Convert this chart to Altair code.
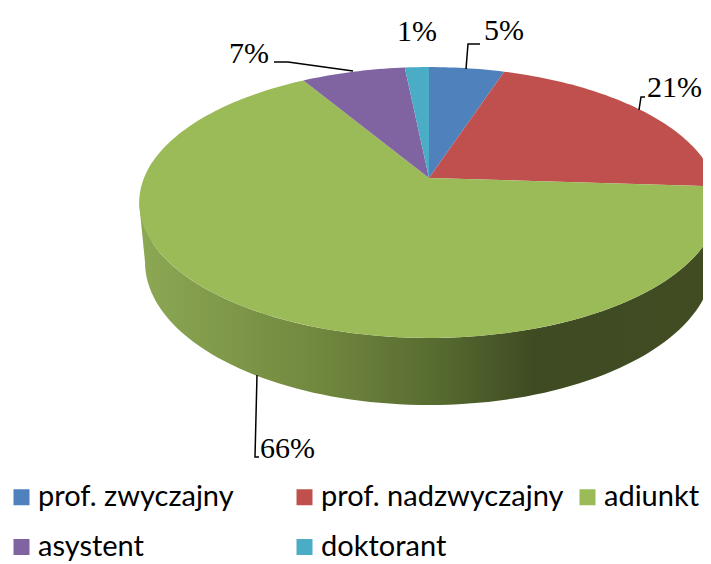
import math
import altair as alt
import pandas as pd

categories = ["prof. zwyczajny", "prof. nadzwyczajny", "adiunkt", "asystent", "doktorant"]
colors = ["#4f81bd", "#c0504d", "#9bbb59", "#8064a2", "#4bacc6"]
shares = [5.0, 21.0, 65.5, 6.9, 1.6]
labels = ["5%", "21%", "66%", "7%", "1%"]
label_x = [484, 647, 260, 229, 397]
label_y = [40, 97, 458, 63, 41]
legend_order = ["prof. zwyczajny", "asystent", "prof. nadzwyczajny", "doktorant", "adiunkt"]
leaders = [
    [(466, 69), (468, 44), (480, 44)],
    [(639, 110), (641, 97), (645, 97)],
    [(257, 375), (255, 457), (259, 457)],
    [(353, 71), (288, 62), (274, 62)],
]

CX, CY, A, B, K = 429.0, 178.0, 131.0, 285.0, 0.1808


def project(theta):
    u, v = math.sin(theta), math.cos(theta)
    d = 1 + K * v
    return CX + B * u / d, CY - A * v / d


rows = []
cum = 0.0
for name, share in zip(categories, shares):
    steps = max(int(share * 3), 4)
    pts = [(CX, CY)]
    for i in range(steps + 1):
        pts.append(project(2 * math.pi * (cum + share * i / steps) / 100))
    pts.append((CX, CY))
    for i, (x, y) in enumerate(pts):
        rows.append({"name": name, "i": i, "x": x, "y": y})
    cum += share
slices = pd.DataFrame(rows)

rim = []
for i in range(0, 181, 2):
    t = math.radians(i)
    rim.append((429 - 284 * math.cos(t), 262 + 143 * math.sin(t)))
top_rim = sorted(
    (project(math.radians(a)) for a in range(85, 278, 2)), key=lambda p: -p[0]
)
wall_pts = top_rim + rim
wall_df = pd.DataFrame(
    [{"i": i, "x": p[0], "y": p[1]} for i, p in enumerate(wall_pts)]
)

X = alt.X("x:Q", axis=None, scale=alt.Scale(domain=[8, 703], nice=False, zero=False))
Y = alt.Y("y:Q", axis=None, scale=alt.Scale(domain=[564, 8], nice=False, zero=False))

side = alt.Chart(wall_df).mark_line(
    strokeWidth=0,
    fill=alt.Gradient(
        gradient="linear", x1=0, x2=1, y1=0, y2=0,
        stops=[
            alt.GradientStop(offset=0, color="#8ca854"),
            alt.GradientStop(offset=0.33, color="#6f853d"),
            alt.GradientStop(offset=0.52, color="#566a30"),
            alt.GradientStop(offset=0.68, color="#3f4b22"),
            alt.GradientStop(offset=1, color="#414c23"),
        ],
    ),
).encode(x=X, y=Y, order="i:Q")

top = alt.Chart(slices).mark_line(filled=True, strokeWidth=0).encode(
    x=X, y=Y, order="i:Q",
    color=alt.Color(
        "name:N",
        sort=legend_order,
        scale=alt.Scale(
            domain=legend_order,
            range=[colors[categories.index(c)] for c in legend_order],
        ),
        legend=alt.Legend(
            title=None, orient="none", legendX=-1, legendY=474.5, columns=3,
            gridAlign="all", symbolType="square", symbolSize=256,
            symbolStrokeWidth=0, labelFont="Lato", labelFontSize=29,
            labelColor="#000000", labelLimit=400, columnPadding=9,
            rowPadding=20, symbolOffset=0, padding=0, labelOffset=2,
        ),
    ),
)

lead_df = pd.DataFrame(
    [{"k": k, "i": i, "x": p[0], "y": p[1]} for k, line in enumerate(leaders) for i, p in enumerate(line)]
)
lead = alt.Chart(lead_df).mark_line(color="#000000", strokeWidth=1.5).encode(
    x=X, y=Y, detail="k:N", order="i:Q"
)

text_df = pd.DataFrame({"t": labels, "x": label_x, "y": label_y})
text = alt.Chart(text_df).mark_text(
    font="Liberation Serif", fontSize=30, align="left", baseline="alphabetic", color="#000000"
).encode(x=X, y=Y, text="t:N")

chart = (
    alt.layer(side, top, lead, text)
    .properties(width=695, height=556, padding=0, autosize=alt.AutoSizeParams(type="none"), background="#ffffff")
    .configure_view(stroke=None)
)
chart.save("out.html", embed_options={"renderer": "svg", "actions": False})
